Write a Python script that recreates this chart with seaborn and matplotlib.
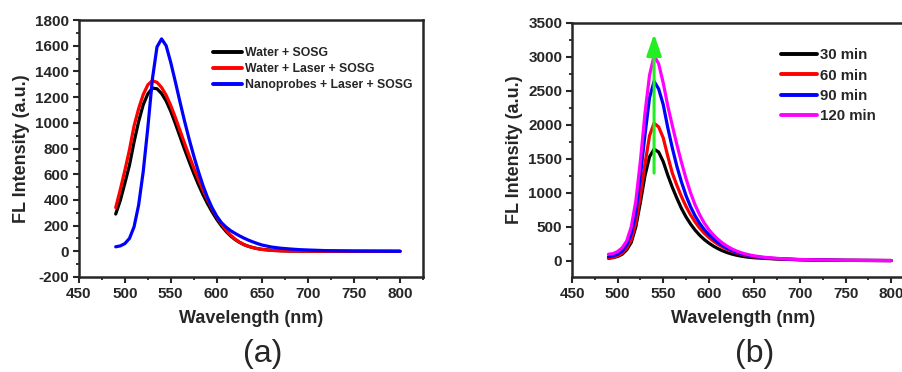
import numpy as np
import pandas as pd
import matplotlib
matplotlib.use("Agg")
import matplotlib.pyplot as plt
from matplotlib.ticker import MultipleLocator
import seaborn as sns

sns.set_style("ticks")
plt.rcParams['font.family'] = ['Liberation Sans', 'DejaVu Sans']
plt.rcParams['axes.unicode_minus'] = False

# wavelength grid (nm) shared by every spectrum
wavelength = [490, 495, 500, 505, 510, 515, 520, 525, 530, 535, 540, 545, 550, 555,
              560, 565, 570, 575, 580, 585, 590, 595, 600, 605, 610, 615, 620, 625,
              630, 635, 640, 645, 650, 660, 670, 680, 690, 700, 720, 750, 800]

# panel (a)
water_sosg = [290, 395, 530, 670, 850, 1010, 1140, 1225, 1270, 1265, 1228, 1170, 1090, 995,
              895, 795, 700, 608, 522, 443, 372, 308, 250, 200, 157, 121, 92, 69,
              51, 38, 28, 20, 15, 8, 4, 2, 1, 1, 0, 0, 0]
water_laser_sosg = [340, 480, 630, 790, 975, 1110, 1220, 1295, 1328, 1315, 1275, 1215, 1135, 1042,
                    942, 842, 745, 652, 563, 480, 403, 333, 270, 215, 168, 128, 96, 71,
                    52, 38, 28, 20, 14, 7, 4, 2, 1, 1, 0, 0, 0]
nano_laser_sosg = [35, 42, 60, 100, 190, 360, 620, 960, 1340, 1590, 1653, 1600, 1470, 1320,
                   1165, 1015, 875, 745, 625, 515, 420, 340, 275, 225, 190, 162, 140, 120,
                   102, 86, 72, 59, 48, 33, 24, 18, 13, 10, 5, 2, 0]
labels_a = ["Water + SOSG", "Water + Laser + SOSG", "Nanoprobes + Laser + SOSG"]

# panel (b)
min30 = [35, 45, 62, 95, 160, 270, 500, 860, 1250, 1530, 1643, 1600, 1460, 1260,
         1080, 920, 770, 645, 540, 450, 375, 312, 260, 215, 178, 146, 120, 99,
         82, 68, 57, 49, 43, 35, 28, 22, 18, 14, 9, 5, 2]
min60 = [40, 50, 70, 110, 185, 310, 560, 960, 1420, 1840, 2026, 1970, 1810, 1540,
         1290, 1110, 945, 800, 675, 570, 480, 405, 342, 288, 242, 202, 168, 140,
         116, 96, 80, 67, 56, 42, 32, 25, 20, 15, 10, 5, 2]
min90 = [60, 72, 95, 140, 230, 400, 700, 1250, 1850, 2400, 2641, 2530, 2300, 1960,
         1660, 1390, 1160, 960, 795, 660, 550, 460, 385, 322, 268, 222, 184, 152,
         125, 103, 86, 72, 61, 45, 35, 27, 21, 16, 10, 5, 2]
min120 = [95, 105, 135, 190, 290, 500, 880, 1470, 2170, 2730, 3019, 2900, 2620, 2280,
          1990, 1710, 1450, 1210, 1000, 820, 675, 555, 458, 380, 315, 260, 214, 176,
          145, 120, 100, 84, 71, 52, 39, 30, 23, 18, 11, 6, 3]
labels_b = ["30 min", "60 min", "90 min", "120 min"]

arrow_wl = 540
arrow_from = 1290
arrow_to = 3340

colors_a = ["#000000", "#ff0000", "#0000ff"]
colors_b = ["#000000", "#ff0000", "#0000ff", "#ff00ff"]

df_a = pd.DataFrame({"wl": wavelength * 3,
                     "val": water_sosg + water_laser_sosg + nano_laser_sosg,
                     "sample": np.repeat(labels_a, len(wavelength))})
df_b = pd.DataFrame({"wl": wavelength * 4,
                     "val": min30 + min60 + min90 + min120,
                     "sample": np.repeat(labels_b, len(wavelength))})

fig = plt.figure(figsize=(9.02, 3.72), dpi=100)
ax1 = fig.add_axes([79 / 902, 95 / 372, 344 / 902, 257 / 372])
ax2 = fig.add_axes([572 / 902, 95 / 372, 342 / 902, 254 / 372])

sns.lineplot(data=df_a, x="wl", y="val", hue="sample", palette=colors_a,
             linewidth=2.3, ax=ax1, sort=False)
sns.lineplot(data=df_b, x="wl", y="val", hue="sample", palette=colors_b,
             linewidth=2.3, ax=ax2, sort=False)

ax2.annotate("", xy=(arrow_wl, arrow_to), xytext=(arrow_wl, arrow_from),
             arrowprops=dict(arrowstyle="-|>,head_length=1.3,head_width=0.45",
                             color="#22ee22", lw=2.2, shrinkA=0, shrinkB=0))

ax1.set_xlim(450, 825)
ax1.set_ylim(-200, 1800)
ax1.yaxis.set_major_locator(MultipleLocator(200))
ax1.yaxis.set_minor_locator(MultipleLocator(100))
ax2.set_xlim(450, 825)
ax2.set_ylim(-240, 3500)
ax2.yaxis.set_major_locator(MultipleLocator(500))
ax2.yaxis.set_minor_locator(MultipleLocator(250))

for ax in (ax1, ax2):
    ax.xaxis.set_major_locator(MultipleLocator(50))
    ax.xaxis.set_minor_locator(MultipleLocator(25))
    for s in ax.spines.values():
        s.set_linewidth(1.8)
        s.set_visible(True)
    ax.tick_params(which="major", direction="out", length=4, width=1.5, pad=3,
                   labelsize=11)
    ax.tick_params(which="minor", direction="out", length=2.5, width=1.3)
    for t in ax.get_xticklabels() + ax.get_yticklabels():
        t.set_fontweight("bold")
    ax.set_xlabel("Wavelength (nm)", fontsize=13, fontweight="bold", labelpad=7)
    ax.set_ylabel("FL Intensity (a.u.)", fontsize=13, fontweight="bold", labelpad=4)

ax1.legend(loc="upper left", bbox_to_anchor=(0.39, 0.895), frameon=False,
           prop={"weight": "bold", "size": 8.8}, handlelength=2.4,
           handletextpad=0.2, labelspacing=0.33, borderpad=0, borderaxespad=0)
ax2.legend(loc="upper left", bbox_to_anchor=(0.61, 0.9), frameon=False,
           prop={"weight": "bold", "size": 10.8}, handlelength=2.4,
           handletextpad=0.25, labelspacing=0.42, borderpad=0, borderaxespad=0)
for leg in (ax1.get_legend(), ax2.get_legend()):
    for h in leg.get_lines():
        h.set_linewidth(2.8)

fig.text(263 / 902, 1 - 354 / 372, "(a)", fontsize=23, ha="center", va="center")
fig.text(755 / 902, 1 - 354 / 372, "(b)", fontsize=23, ha="center", va="center")

fig.savefig("out.png", dpi=100)
